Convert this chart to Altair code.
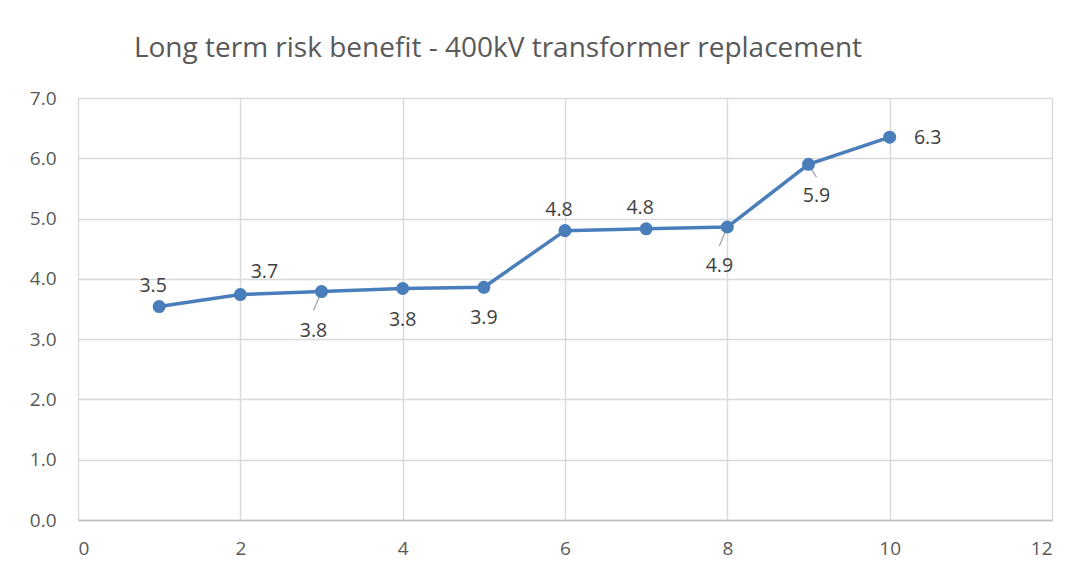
import altair as alt
import pandas as pd

# ---- data ----
x_vals = [1, 2, 3, 4, 5, 6, 7, 8, 9, 10]
y_vals = [3.54, 3.74, 3.79, 3.84, 3.86, 4.80, 4.83, 4.86, 5.90, 6.35]
labels = ["3.5", "3.7", "3.8", "3.8", "3.9", "4.8", "4.8", "4.9", "5.9", "6.3"]
placements = ["above", "above_right", "below_leader_left", "below", "below",
              "above", "above", "below_leader_left", "below_leader_right", "right"]
title_text = ["Long term risk benefit - 400kV transformer replacement"]
x_ticks = [0, 2, 4, 6, 8, 10, 12]
y_ticks = [0, 1, 2, 3, 4, 5, 6, 7]

df = pd.DataFrame({"x": x_vals, "y": y_vals, "label": labels, "placement": placements})

# ---- styling ----
BLUE = "#4a7ebb"
FONT = "Open Sans"
LABEL_OFFSETS = {
    "above": (-6, -21),
    "above_right": (24, -23),
    "below": (0, 31),
    "below_leader_left": (-8, 39),
    "below_leader_right": (8, 32),
    "right": (38, 1),
}
LEADERS = {"below_leader_left": (-8, 19), "below_leader_right": (8, 13)}

xs = alt.Scale(domain=[0, 12], nice=False, zero=False)
ys = alt.Scale(domain=[0, 7], nice=False)

base = alt.Chart(df).encode(
    x=alt.X("x:Q", scale=xs, axis=alt.Axis(values=x_ticks, title=None, format="d",
                                           labelPadding=19, domain=True)),
    y=alt.Y("y:Q", scale=ys, axis=alt.Axis(values=y_ticks, title=None, format=".1f",
                                           labelPadding=22, domain=False)),
)

line = base.mark_line(color=BLUE, strokeWidth=3.5)
points = base.mark_circle(size=170, color=BLUE, opacity=1)

leaders = []
for p, (ldx, ldy) in LEADERS.items():
    leaders.append(
        alt.Chart(df).transform_filter(alt.datum.placement == p)
        .mark_rule(color="#a6a6a6", strokeWidth=1.3, x2Offset=ldx, y2Offset=ldy)
        .encode(x=alt.X("x:Q", scale=xs), y=alt.Y("y:Q", scale=ys),
                x2=alt.X2("x"), y2=alt.Y2("y"))
    )

texts = []
for p, (tdx, tdy) in LABEL_OFFSETS.items():
    texts.append(
        base.transform_filter(alt.datum.placement == p)
        .mark_text(dx=tdx, dy=tdy, font=FONT, fontSize=19.5, color="#404040",
                   align="center", baseline="middle")
        .encode(text="label:N")
    )

title = alt.Chart(pd.DataFrame({"t": title_text})).mark_text(
    font=FONT, fontSize=28, color="#595959", align="center", baseline="alphabetic"
).encode(x=alt.value(420), y=alt.value(-41), text="t:N")

chart = alt.layer(line, *leaders, points, *texts, title).properties(
    width=974,
    height=422,
    autosize=alt.AutoSizeParams(type="none"),
    padding={"left": 70, "top": 90, "right": 24, "bottom": 50},
).configure_view(stroke=None).configure_axis(
    grid=True,
    gridColor="#d9d9d9",
    gridWidth=1.4,
    domainColor="#bfbfbf",
    domainWidth=1.4,
    ticks=False,
    labelFont=FONT,
    labelFontSize=19,
    labelColor="#595959",
)

chart.save("out.html", embed_options={"renderer": "svg", "actions": False})
